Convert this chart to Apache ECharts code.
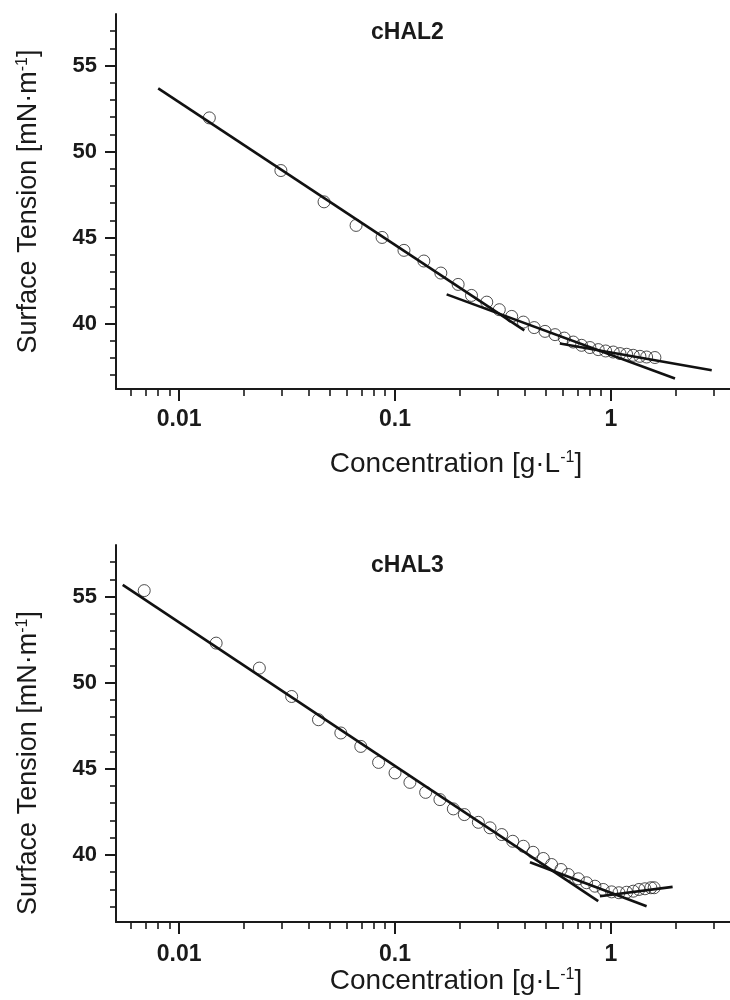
<!DOCTYPE html>
<html>
<head>
<meta charset="utf-8">
<script src="https://cdn.jsdelivr.net/npm/echarts@6/dist/echarts.min.js"></script>
<style>
html,body{margin:0;padding:0;background:#fff;}
#chart{width:730px;height:1000px;}
</style>
</head>
<body>
<div id="chart"></div>
<script>
// ---- Data: cHAL2 (top panel) ----
const conc2 = [0.0138, 0.0296, 0.0469, 0.066, 0.0871, 0.110, 0.136, 0.163, 0.196, 0.226, 0.266, 0.304, 0.347, 0.393, 0.441, 0.495, 0.551, 0.608, 0.669, 0.731, 0.799, 0.873, 0.945, 1.025, 1.101, 1.182, 1.268, 1.362, 1.463, 1.598];
const tension2 = [51.96, 48.90, 47.08, 45.71, 45.01, 44.26, 43.64, 42.94, 42.28, 41.64, 41.25, 40.81, 40.42, 40.09, 39.77, 39.55, 39.36, 39.16, 38.93, 38.74, 38.61, 38.49, 38.41, 38.35, 38.26, 38.22, 38.16, 38.10, 38.06, 38.03];
const fit2A = [[0.0080, 53.68], [0.397, 39.61]];
const fit2B = [[0.1734, 41.70], [1.98, 36.81]];
const fit2C = [[0.580, 38.84], [2.93, 37.29]];

// ---- Data: cHAL3 (bottom panel) ----
const conc3 = [0.00689, 0.01484, 0.02353, 0.0332, 0.0442, 0.0561, 0.0694, 0.0839, 0.1000, 0.1172, 0.1386, 0.1614, 0.1862, 0.2094, 0.2432, 0.2754, 0.312, 0.351, 0.393, 0.436, 0.486, 0.531, 0.587, 0.634, 0.706, 0.771, 0.843, 0.921, 1.007, 1.089, 1.182, 1.268, 1.348, 1.437, 1.531, 1.586];
const tension3 = [55.35, 52.30, 50.85, 49.20, 47.85, 47.08, 46.30, 45.37, 44.76, 44.21, 43.63, 43.21, 42.67, 42.34, 41.89, 41.57, 41.18, 40.79, 40.50, 40.15, 39.79, 39.44, 39.15, 38.86, 38.61, 38.38, 38.18, 37.99, 37.85, 37.80, 37.83, 37.89, 37.99, 38.03, 38.09, 38.09];
const fit3A = [[0.00548, 55.68], [0.873, 37.31]];
const fit3B = [[0.4217, 39.57], [1.463, 37.02]];
const fit3C = [[0.889, 37.60], [1.93, 38.14]];

// ---- Ticks / labels ----
const xMajorTicks = [0.01, 0.1, 1];
const xMinorTicks = [0.006, 0.007, 0.008, 0.009, 0.02, 0.03, 0.04, 0.05, 0.06, 0.07, 0.08, 0.09, 0.2, 0.3, 0.4, 0.5, 0.6, 0.7, 0.8, 0.9, 2, 3];
const yMajorTicks = [40, 45, 50, 55];
const yMinorTicks = [37, 38, 39, 41, 42, 43, 44, 46, 47, 48, 49, 51, 52, 53, 54, 56, 57];
const titles = ['cHAL2', 'cHAL3'];
const xTitle = 'Concentration [g·L{sup|-1}]';
const yTitle = 'Surface Tension [mN·m{sup|-1}]';

const INK = '#1a1a1a';
const FONT = '"Liberation Sans", Arial, Helvetica, sans-serif';
const XMIN = 0.0051, XMAX = 3.56;

const panels = [
  {top: 14, height: 375, ymin: 36.2, ymax: 58, conc: conc2, ten: tension2, fits: [fit2A, fit2B, fit2C], title: titles[0], titleTop: 16, xGap: 61, xLblMargin: 19, yPad: [0, 0, 0, 0]},
  {top: 545, height: 377, ymin: 36.1, ymax: 58, conc: conc3, ten: tension3, fits: [fit3A, fit3B, fit3C], title: titles[1], titleTop: 549, xGap: 45, xLblMargin: 21, yPad: [0, 59, 0, 0]}
];

const richSup = {sup: {fontSize: 16, fontFamily: FONT, color: INK, verticalAlign: 'top', lineHeight: 16}};

const option = {
  animation: false,
  backgroundColor: '#fff',
  title: [], grid: [], xAxis: [], yAxis: [], series: []
};

panels.forEach((p, i) => {
  option.title.push({text: p.title, left: 366, top: p.titleTop,
    textStyle: {fontFamily: FONT, fontWeight: 'bold', fontSize: 23, color: INK}});
  option.grid.push({left: 116, right: 0, top: p.top, height: p.height, containLabel: false});
  const fmt = v => parseFloat(Number(v).toPrecision(6)).toString();
  // major x axis with labels
  option.xAxis.push({
    type: 'log', logBase: 10, gridIndex: i, position: 'bottom', min: XMIN, max: XMAX,
    name: xTitle, nameLocation: 'middle', nameGap: p.xGap,
    nameTextStyle: {fontFamily: FONT, fontSize: 28, color: INK, padding: [0, 0, 0, 66], rich: richSup},
    axisLine: {show: true, onZero: false, lineStyle: {color: INK, width: 2}},
    axisTick: {show: true, inside: false, length: 12, lineStyle: {color: INK, width: 2}, customValues: xMajorTicks},
    axisLabel: {show: true, margin: p.xLblMargin, fontFamily: FONT, fontWeight: 'bold', fontSize: 23, color: INK, customValues: xMajorTicks, formatter: fmt},
    splitLine: {show: false}, minorTick: {show: false}, minorSplitLine: {show: false}
  });
  // minor x ticks
  option.xAxis.push({
    type: 'log', logBase: 10, gridIndex: i, position: 'bottom', min: XMIN, max: XMAX,
    axisLine: {show: false},
    axisTick: {show: true, inside: false, length: 7, lineStyle: {color: INK, width: 1.6}, customValues: xMinorTicks},
    axisLabel: {show: false}, splitLine: {show: false}
  });
  // major y axis
  option.yAxis.push({
    type: 'value', gridIndex: i, position: 'left', min: p.ymin, max: p.ymax,
    name: yTitle, nameLocation: 'middle', nameGap: 74, nameRotate: 90,
    nameTextStyle: {fontFamily: FONT, fontSize: 27, color: INK, padding: p.yPad, rich: richSup},
    axisLine: {show: true, onZero: false, lineStyle: {color: INK, width: 2}},
    axisTick: {show: true, inside: false, length: 11, lineStyle: {color: INK, width: 2}, customValues: yMajorTicks},
    axisLabel: {show: true, margin: 19, fontFamily: FONT, fontWeight: 'bold', fontSize: 22, color: INK, customValues: yMajorTicks},
    splitLine: {show: false}
  });
  // minor y ticks
  option.yAxis.push({
    type: 'value', gridIndex: i, position: 'left', min: p.ymin, max: p.ymax,
    axisLine: {show: false},
    axisTick: {show: true, inside: false, length: 6, lineStyle: {color: INK, width: 1.6}, customValues: yMinorTicks},
    axisLabel: {show: false}, splitLine: {show: false}
  });
  const xi = i * 2, yi = i * 2;
  option.series.push({
    type: 'scatter', xAxisIndex: xi, yAxisIndex: yi,
    data: p.conc.map((c, k) => [c, p.ten[k]]),
    symbol: 'circle', symbolSize: 12,
    itemStyle: {color: 'rgba(255,255,255,0)', borderColor: '#222', borderWidth: 1},
    z: 3
  });
  p.fits.forEach(f => {
    option.series.push({
      type: 'line', xAxisIndex: xi, yAxisIndex: yi, data: f,
      symbol: 'none', lineStyle: {color: '#111', width: 2.6}, z: 4
    });
  });
});

const chart = echarts.init(document.getElementById('chart'), null, {renderer: 'canvas'});
chart.setOption(option);
</script>
</body>
</html>
